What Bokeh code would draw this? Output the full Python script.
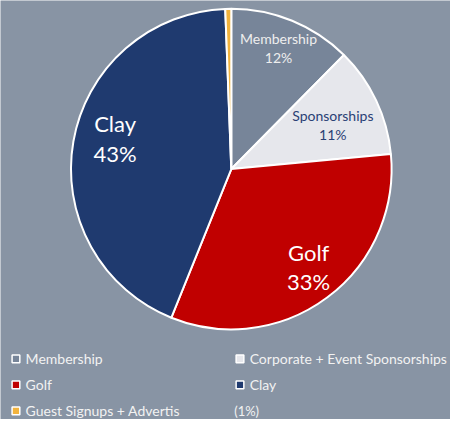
import math
from bokeh.plotting import figure
from bokeh.models import ColumnDataSource, Range1d
from bokeh.core.properties import value
from bokeh.embed import file_html
from bokeh.resources import INLINE

# ---- data ----
categories = ["Membership", "Corporate + Event Sponsorships", "Golf", "Clay", "Guest Signups + Advertis"]
short_labels = ["Membership", "Sponsorships", "Golf", "Clay", ""]
shares = [12.4, 11.1, 32.6, 43.3, 0.6]
colors = ["#778599", "#e6e7ec", "#c00000", "#1f3a6f", "#f2b33d"]
label_colors = ["#eeeeee", "#2a4175", "#ffffff", "#ffffff", "#ffffff"]
label_sizes = [14, 14, 22, 22, 13]
label_radius = [0.81, 0.69, 0.78, 0.75, 0.0]
label_nudge_deg = [-1.0, 2.0, -1.5, 5.0, 0.0]
legend_extra = ["", "", "", "", "(1%)"]

BG = "#8894a4"
W, H = 450, 419            # figure size in screen px
RW, RH = 466, 435          # coordinate space
cx, cy, R = 239, RH - 175, 166

p = figure(width=W, height=H, output_backend="svg", toolbar_location=None,
           x_range=Range1d(0, RW), y_range=Range1d(0, RH),
           min_border=0, background_fill_color=BG, border_fill_color=BG,
           outline_line_color=None)
p.axis.visible = False
p.grid.visible = False

total = sum(shares)
starts, ends, mids = [], [], []
acc = 0.0
for s in shares:
    a0 = acc / total
    acc += s
    a1 = acc / total
    starts.append(math.pi / 2 - a0 * 2 * math.pi)
    ends.append(math.pi / 2 - a1 * 2 * math.pi)
    mids.append(math.pi / 2 - (a0 + a1) / 2 * 2 * math.pi)

src = ColumnDataSource(dict(x=[cx] * len(shares), y=[cy] * len(shares),
                            start=starts, end=ends, color=colors))
p.wedge(x="x", y="y", radius=R, start_angle="start", end_angle="end",
        direction="clock", fill_color="color", line_color="white", line_width=2,
        source=src)

# slice labels
font = value("Lato")
for i in range(4):
    fs = label_sizes[i]
    gap = fs * 0.7
    ang = mids[i] - math.radians(label_nudge_deg[i])
    lx = cx + label_radius[i] * R * math.cos(ang)
    ly = cy + label_radius[i] * R * math.sin(ang)
    pct = f"{round(shares[i] / total * 100)}%"
    p.text(x=[lx, lx], y=[ly + gap, ly - gap], text=[short_labels[i], pct],
           text_font=font, text_font_size=f"{fs}px", text_color=label_colors[i],
           text_align="center", text_baseline="middle")

# legend
col_x = [16, 248]
row_y = [RH - 372, RH - 399, RH - 426]
lx_list, ly_list = [], []
for i in range(len(categories)):
    lx_list.append(col_x[i % 2])
    ly_list.append(row_y[i // 2])
p.rect(x=lx_list, y=ly_list, width=8, height=8,
       fill_color=colors, line_color="white", line_width=1.5)
p.text(x=[x + 10 for x in lx_list], y=ly_list, text=categories,
       text_font=font, text_font_size="14px", text_color="#f2f2f2",
       text_align="left", text_baseline="middle")
p.text(x=[col_x[1] - 6], y=[row_y[2]], text=[legend_extra[4]],
       text_font=font, text_font_size="13px", text_color="#f2f2f2",
       text_align="left", text_baseline="middle")

html = file_html(p, INLINE)
html = html.replace("<body>", f'<body style="background:{BG};">', 1)
open("out.html", "w").write(html)
